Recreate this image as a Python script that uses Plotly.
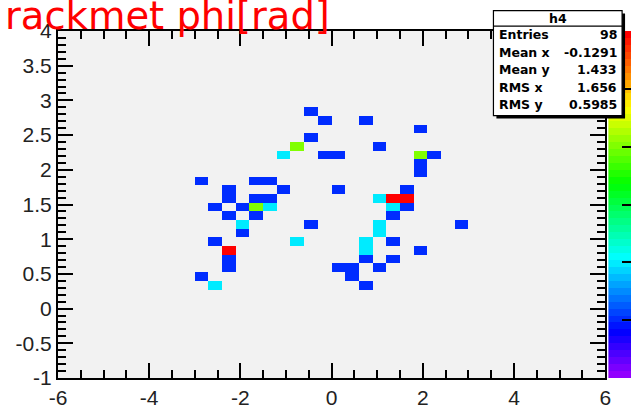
import colorsys
import plotly.graph_objects as go

# ---------------- data ----------------
# TH2 binning: 40 x-bins of 0.3 on [-6, 6]; y-bins of 0.125
x_lo, x_bin, n_x = -6.0, 0.3, 40
y_lo, y_bin, n_y = -0.975, 0.125, 40

# filled bins: bin-centre x, bin-centre y, bin content
cell_x = [-0.45, -0.15, -0.45, -0.75, -1.05, -0.15, 0.15, -2.85, -1.65, -1.35,
          -2.25, -2.25, -1.05, -1.65, -1.35, -2.55, -1.95, -1.65, -1.35, -2.25,
          -1.65, -1.95, -0.45, -1.95, -2.55, -0.75, -2.25, -2.25, -2.25, -2.85,
          -2.55, 0.75, 1.95, 1.05, 1.95, 2.25, 1.95, 1.95, 0.15, 1.65,
          1.05, 1.35, 1.65, 1.35, 1.65, 1.35, 1.05, 1.05, 2.85, 0.75,
          0.75, 1.35, 1.95, 0.75, 1.35, 0.15, 0.45, 1.05, 0.45, 0.75]
cell_y = [2.8375, 2.7125, 2.4625, 2.3375, 2.2125, 2.2125, 2.2125, 1.8375, 1.8375, 1.8375,
          1.7125, 1.5875, 1.7125, 1.5875, 1.5875, 1.4625, 1.4625, 1.4625, 1.4625, 1.3375,
          1.3375, 1.2125, 1.2125, 1.0875, 0.9625, 0.9625, 0.8375, 0.7125, 0.5875, 0.4625,
          0.3375, 2.7125, 2.5875, 2.3375, 2.2125, 2.2125, 2.0875, 1.9625, 1.7125, 1.7125,
          1.5875, 1.5875, 1.5875, 1.4625, 1.4625, 1.3375, 1.2125, 1.0875, 1.2125, 0.9625,
          0.8375, 0.9625, 0.8375, 0.7125, 0.7125, 0.5875, 0.5875, 0.5875, 0.4625, 0.3375]
cell_n = [1, 1, 1, 4, 2, 1, 1, 1, 1, 1,
          1, 1, 1, 1, 1, 1, 1, 4, 2, 1,
          1, 2, 1, 1, 1, 2, 6, 1, 1, 1,
          2, 1, 1, 1, 4, 1, 1, 1, 1, 1,
          2, 6, 6, 2, 1, 1, 2, 2, 1, 2,
          2, 1, 1, 1, 1, 1, 1, 1, 1, 1]

z_min, z_max = 0, 6
x_ticks = [-6, -4, -2, 0, 2, 4, 6]
x_tick_labels = ["-6", "-4", "-2", "0", "2", "4", "6"]
y_ticks = [-1, -0.5, 0, 0.5, 1, 1.5, 2, 2.5, 3, 3.5, 4]
y_tick_labels = ["-1", "-0.5", "0", "0.5", "1", "1.5", "2", "2.5", "3", "3.5", "4"]
z_ticks = [0, 1, 2, 3, 4, 5, 6]

title_text = "rackmet phi[rad]"
hist_name = "h4"
stats_labels = ["Entries", "Mean x", "Mean y", "RMS x", "RMS y"]
stats_values = ["98", "-0.1291", "1.433", "1.656", "0.5985"]

# ---------------- build grid ----------------
x_centers = [x_lo + x_bin * (i + 0.5) for i in range(n_x)]
y_centers = [y_lo + y_bin * (j + 0.5) for j in range(n_y)]
grid = [[None] * n_x for _ in range(n_y)]
for x, y, n in zip(cell_x, cell_y, cell_n):
    i = int(round((x - x_lo) / x_bin - 0.5))
    j = int(round((y - y_lo) / y_bin - 0.5))
    grid[j][i] = n

# minor tick positions (axis subdivisions)
x_minor = [round(-6 + 0.5 * k, 3) for k in range(25)]
y_minor = [round(-1 + 0.1 * k, 3) for k in range(51)]

# ROOT "pretty" palette (50 colours, violet -> red)
n_col = 50
palette = []
for i in range(n_col):
    h = 280 - (i + 1) * (280.0 / n_col)
    r, g, b = colorsys.hls_to_rgb(h / 360.0, 0.5, 1.0)
    palette.append(f"rgb({int(round(r*255))},{int(round(g*255))},{int(round(b*255))})")
colorscale = []
for i, c in enumerate(palette):
    colorscale.append([i / n_col, c])
    colorscale.append([(i + 1) / n_col, c])

# ---------------- geometry (pixels) ----------------
W, H = 637, 409
ML, MT, MB = 58, 31, 21
pw = W - ML
ph = H - MT - MB
def px(p):
    return (p - ML) / pw
def py(p):
    return (H - MB - p) / ph

fig = go.Figure()
fig.add_trace(go.Heatmap(
    x=x_centers, y=y_centers, z=grid, zmin=z_min, zmax=z_max,
    colorscale=colorscale, showscale=False, hoverinfo="skip",
    xaxis="x", yaxis="y"))

# palette bar
band_c = [(k + 0.5) * (z_max - z_min) / n_col + z_min for k in range(n_col)]
fig.add_trace(go.Heatmap(
    x=[0], y=band_c, z=[[v] for v in band_c], zmin=z_min, zmax=z_max,
    colorscale=colorscale, showscale=False, hoverinfo="skip",
    xaxis="x2", yaxis="y2"))

# empty trace carrying the minor-tick overlay axes
fig.add_trace(go.Scatter(x=[None], y=[None], mode="markers", hoverinfo="skip",
                         xaxis="x3", yaxis="y3", showlegend=False))

tickfont = dict(family="Liberation Sans, Arial", size=21, color="#222")
axis_common = dict(showline=True, linewidth=2, linecolor="black", mirror="ticks",
                   ticks="inside", ticklen=15, tickwidth=2, tickcolor="black",
                   showgrid=False, zeroline=False, tickfont=tickfont)
minor_common = dict(showline=True, linewidth=2, linecolor="black", mirror="ticks",
                    ticks="inside", ticklen=8, tickwidth=2, tickcolor="black",
                    showgrid=False, zeroline=False, showticklabels=False,
                    tickmode="array")

fig.update_layout(
    width=W, height=H,
    margin=dict(l=ML, r=0, t=MT, b=MB, pad=0),
    paper_bgcolor="white", plot_bgcolor="#f2f2f2",
    xaxis=dict(domain=[0, px(611)], range=[-6, 6], tickmode="array",
               tickvals=x_ticks, ticktext=x_tick_labels, anchor="y", **axis_common),
    yaxis=dict(domain=[0, 1], range=[-1, 4], tickmode="array",
               tickvals=y_ticks, ticktext=y_tick_labels, anchor="x", **axis_common),
    xaxis3=dict(overlaying="x", anchor="y", range=[-6, 6], tickvals=x_minor,
                **minor_common),
    yaxis3=dict(overlaying="y", anchor="x", range=[-1, 4], tickvals=y_minor,
                **minor_common),
    xaxis2=dict(domain=[px(614), 1], range=[-0.5, 0.5], showticklabels=False,
                showgrid=False, zeroline=False, ticks="", anchor="y2"),
    yaxis2=dict(domain=[0, 1], range=[z_min, z_max], anchor="x2", side="right",
                tickmode="array", tickvals=z_ticks, ticks="inside", ticklen=9,
                tickwidth=2, tickcolor="black", showticklabels=False,
                showgrid=False, zeroline=False, showline=False),
    showlegend=False,
)

# stats box (shadow + box + header line)
bx0, bx1, by0, by1 = 498, 628, 10, 118
fig.add_shape(type="rect", xref="paper", yref="paper",
              x0=px(bx0 + 3), x1=px(bx1 + 3), y0=py(by1 + 3), y1=py(by0 + 3),
              fillcolor="black", line=dict(width=0), layer="above")
fig.add_shape(type="rect", xref="paper", yref="paper",
              x0=px(bx0), x1=px(bx1), y0=py(by1), y1=py(by0),
              fillcolor="white", line=dict(color="black", width=1.2), layer="above")
fig.add_shape(type="line", xref="paper", yref="paper",
              x0=px(bx0), x1=px(bx1), y0=py(26), y1=py(26),
              line=dict(color="black", width=1.2), layer="above")

sfont = dict(family="DejaVu Sans", size=12.5, color="black")
fig.add_annotation(text="<b>" + hist_name + "</b>", xref="paper", yref="paper",
                   x=px(563), y=py(18), xanchor="center", yanchor="middle",
                   showarrow=False, font=sfont)
row_y = [35, 53, 71, 89, 107]
for lab, val, ry in zip(stats_labels, stats_values, row_y):
    fig.add_annotation(text="<b>" + lab + "</b>", xref="paper", yref="paper",
                       x=px(502), y=py(ry), xanchor="left", yanchor="middle",
                       showarrow=False, font=sfont)
    fig.add_annotation(text="<b>" + val + "</b>", xref="paper", yref="paper",
                       x=px(625), y=py(ry), xanchor="right", yanchor="middle",
                       showarrow=False, font=sfont)

# title (cut at the left edge in the original)
fig.add_annotation(text=title_text, xref="paper", yref="paper",
                   x=px(2), y=py(15), xanchor="left", yanchor="middle",
                   showarrow=False, font=dict(family="DejaVu Sans", size=38.5, color="red"))

fig.write_html("out.html")
